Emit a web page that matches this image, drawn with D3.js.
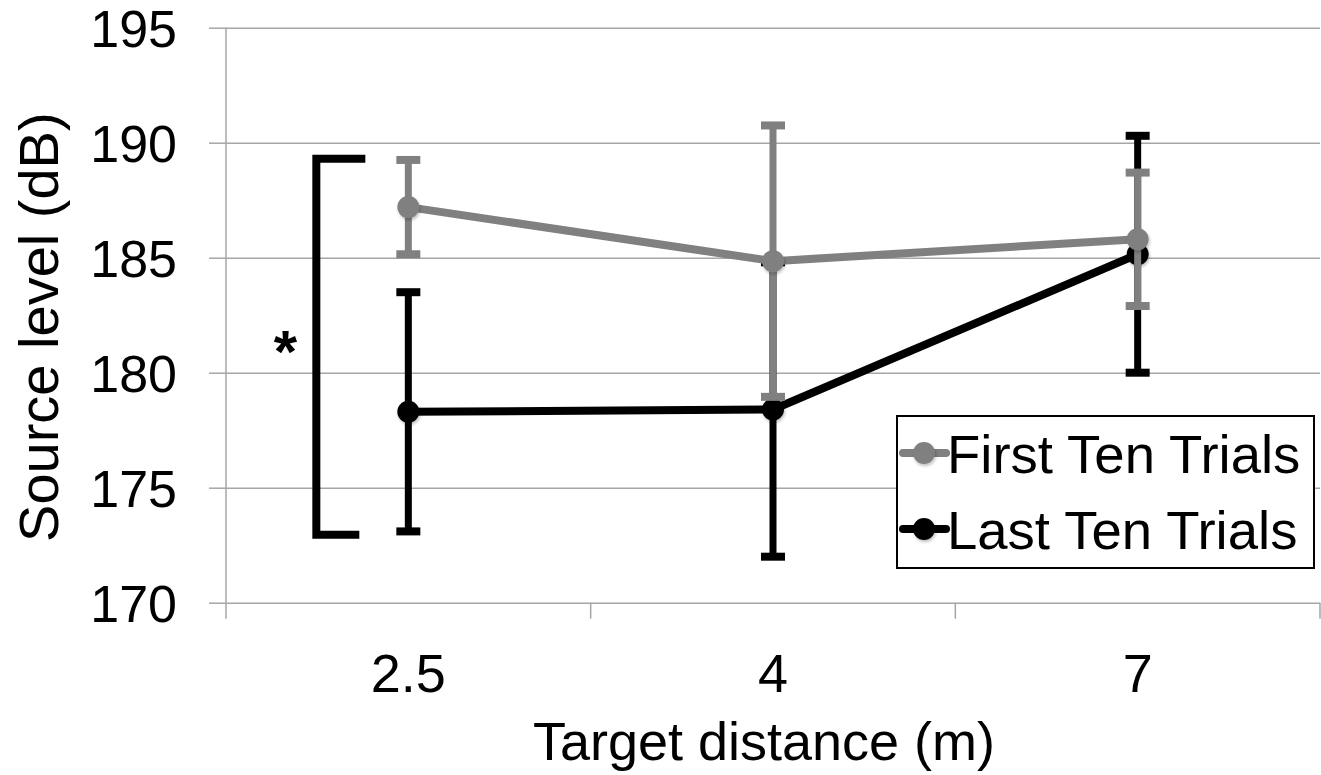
<!DOCTYPE html>
<html>
<head>
<meta charset="utf-8">
<script src="https://cdn.jsdelivr.net/npm/d3@7"></script>
<style>
  html, body { margin: 0; padding: 0; background: #fff; }
  svg { display: block; font-family: "Liberation Sans", Arial, sans-serif; }
</style>
</head>
<body>
<div id="chart"></div>
<script>
const distances = ["2.5", "4", "7"];
const seriesNames = ["First Ten Trials", "Last Ten Trials"];
const firstMean = [187.2, 184.85, 185.8];
const firstErr = [2.05, 5.9, 2.9];
const lastMean = [178.3, 178.4, 185.15];
const lastErr = [5.2, 6.4, 5.15];
const yTicks = [170, 175, 180, 185, 190, 195];
// significance bracket around the 2.5 m group
const bracketRange = [172.95, 189.3];

const width = 1321;
const height = 775;
const margin = { top: 27.7, right: 1, bottom: 172.3, left: 226 };

const colors = { "First Ten Trials": "#808080", "Last Ten Trials": "#000000" };
const gridColor = "#a6a6a6";

const series = [
  { name: seriesNames[1], values: distances.map((d, i) => ({ d, v: lastMean[i], e: lastErr[i] })) },
  { name: seriesNames[0], values: distances.map((d, i) => ({ d, v: firstMean[i], e: firstErr[i] })) },
];

const x = d3.scaleBand().domain(distances).range([margin.left, width - margin.right]);
const y = d3.scaleLinear().domain([170, 195]).range([height - margin.bottom, margin.top]);
const cx = (d) => x(d) + x.bandwidth() / 2;

const svg = d3.select("#chart").append("svg")
  .attr("width", width)
  .attr("height", height)
  .attr("viewBox", `0 0 ${width} ${height}`);

const defs = svg.append("defs");
defs.append("filter")
  .attr("id", "shadow")
  .attr("x", "-50%").attr("y", "-50%").attr("width", "200%").attr("height", "200%")
  .append("feDropShadow")
  .attr("dx", 1).attr("dy", 2).attr("stdDeviation", 1.5)
  .attr("flood-color", "#000").attr("flood-opacity", 0.25);

// y axis with gridlines
svg.append("g")
  .attr("transform", `translate(${margin.left},0)`)
  .call(d3.axisLeft(y).tickValues(yTicks).tickSize(17).tickPadding(32))
  .call((g) => g.select(".domain").attr("stroke", gridColor).attr("stroke-width", 1.5).attr("d", `M0,${y(195)}V${y(170)}`))
  .call((g) => g.selectAll(".tick line").attr("stroke", gridColor).attr("stroke-width", 1.5))
  .call((g) => g.selectAll(".tick line").clone()
    .attr("x1", 0).attr("x2", width - margin.right - margin.left))
  .call((g) => g.selectAll(".tick text")
    .attr("font-size", 52).attr("fill", "#000").attr("font-family", null).attr("dy", "0.36em"));

// x axis
svg.append("g")
  .attr("transform", `translate(0,${y(170)})`)
  .call(d3.axisBottom(x).tickSize(0).tickPadding(51))
  .call((g) => g.select(".domain").remove())
  .call((g) => g.selectAll(".tick text")
    .attr("font-size", 54).attr("fill", "#000").attr("font-family", null));

// band boundary ticks on the x axis
svg.append("g")
  .selectAll("line")
  .data(distances.concat([null]))
  .join("line")
  .attr("x1", (d) => d === null ? width - margin.right : x(d))
  .attr("x2", (d) => d === null ? width - margin.right : x(d))
  .attr("y1", y(170))
  .attr("y2", y(170) + 16)
  .attr("stroke", gridColor)
  .attr("stroke-width", 1.5);

// axis titles
svg.append("text")
  .attr("x", (margin.left + width - margin.right) / 2 - 9)
  .attr("y", 760)
  .attr("text-anchor", "middle")
  .attr("font-size", 54)
  .text("Target distance (m)");

svg.append("text")
  .attr("transform", `translate(58,${(y(195) + y(170)) / 2 + 12}) rotate(-90)`)
  .attr("text-anchor", "middle")
  .attr("font-size", 56)
  .text("Source level (dB)");

// significance bracket
const bx = cx("2.5") - 92;
svg.append("path")
  .attr("fill", "none")
  .attr("stroke", "#000")
  .attr("stroke-width", 8)
  .attr("d", `M${bx + 49},${y(bracketRange[1])}H${bx}V${y(bracketRange[0])}H${bx + 43}`);

svg.append("text")
  .attr("x", bx - 31)
  .attr("y", 372)
  .attr("text-anchor", "middle")
  .attr("font-size", 60)
  .attr("font-weight", "bold")
  .text("*");

const line = d3.line().x((p) => cx(p.d)).y((p) => y(p.v));

const sg = svg.append("g")
  .selectAll("g")
  .data(series)
  .join("g");

sg.append("path")
  .attr("fill", "none")
  .attr("stroke", (s) => colors[s.name])
  .attr("stroke-width", 8)
  .attr("stroke-linejoin", "round")
  .attr("d", (s) => line(s.values));

const eb = sg.selectAll("g.err")
  .data((s) => s.values.map((p) => ({ ...p, name: s.name })))
  .join("g")
  .attr("class", "err");

eb.append("line")
  .attr("x1", (p) => cx(p.d)).attr("x2", (p) => cx(p.d))
  .attr("y1", (p) => y(p.v + p.e)).attr("y2", (p) => y(p.v - p.e))
  .attr("stroke", (p) => colors[p.name])
  .attr("stroke-width", 7);

eb.selectAll("line.cap")
  .data((p) => [p.v + p.e, p.v - p.e].map((c) => ({ ...p, c })))
  .join("line")
  .attr("class", "cap")
  .attr("x1", (p) => cx(p.d) - 12).attr("x2", (p) => cx(p.d) + 12)
  .attr("y1", (p) => y(p.c)).attr("y2", (p) => y(p.c))
  .attr("stroke", (p) => colors[p.name])
  .attr("stroke-width", 8);

eb.append("circle")
  .attr("cx", (p) => cx(p.d))
  .attr("cy", (p) => y(p.v))
  .attr("r", 11)
  .attr("fill", (p) => colors[p.name])
  .attr("filter", "url(#shadow)");

// legend
const legend = svg.append("g").attr("transform", "translate(897,416)");
legend.append("rect")
  .attr("width", 417).attr("height", 152)
  .attr("fill", "#fff").attr("stroke", "#000").attr("stroke-width", 2);

const li = legend.selectAll("g")
  .data(seriesNames)
  .join("g")
  .attr("transform", (d, i) => `translate(0,${37 + i * 76})`);

li.append("line")
  .attr("x1", 6).attr("x2", 49)
  .attr("stroke", (d) => colors[d])
  .attr("stroke-width", 8)
  .attr("stroke-linecap", "round");

li.append("circle")
  .attr("cx", 27).attr("r", 11)
  .attr("fill", (d) => colors[d])
  .attr("filter", "url(#shadow)");

li.append("text")
  .attr("x", 50)
  .attr("y", 20)
  .attr("font-size", 54.5)
  .text((d) => d);
</script>
</body>
</html>
